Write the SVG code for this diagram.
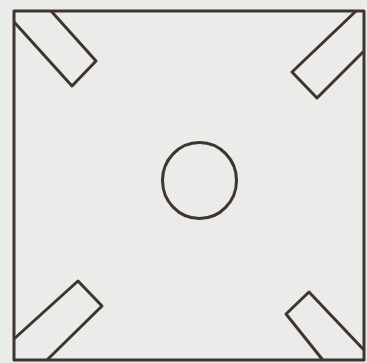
<svg xmlns="http://www.w3.org/2000/svg" width="367" height="363" viewBox="0 0 367 363">
<style>
.ln{fill:none;stroke:#3f352e;stroke-width:3;stroke-linejoin:round;stroke-linecap:round}
</style>
<rect width="367" height="363" fill="#ebebea"/>
<g id="frame"><rect class="ln" x="14" y="11" width="350" height="349"/></g>
<g id="slot-tl"><polyline class="ln" points="15,23 72,86 96,61 52,12"/></g>
<g id="slot-tr"><polyline class="ln" points="355,12 292,72 317,98 363,52"/></g>
<g id="slot-bl"><polyline class="ln" points="15,338 78,281 102,306 48,359"/></g>
<g id="slot-br"><polyline class="ln" points="322,359 286,314 309,292 363,349"/></g>
<g id="hole"><ellipse class="ln" cx="199.5" cy="180.5" rx="37" ry="38"/></g>
</svg>
